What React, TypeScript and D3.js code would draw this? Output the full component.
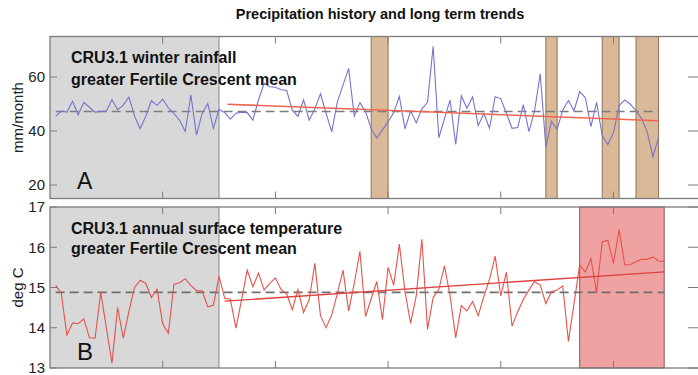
import React from "react";
import * as d3 from "d3";

// CRU3.1 winter rainfall, greater Fertile Crescent mean (mm/month), 1901-2008
const precipStartYear = 1901;
const precipValues = [
  45.4, 47.4, 47.0, 51.0, 46.0, 50.6, 48.8, 47.0, 47.2, 47.4,
  51.6, 47.9, 49.6, 52.6, 45.6, 40.8, 45.5, 51.2, 49.5, 51.8,
  48.6, 46.4, 44.0, 39.8, 53.4, 38.5, 46.5, 50.2, 41.0, 48.0,
  46.8, 44.4, 46.6, 47.0, 46.8, 44.0, 51.5, 57.7, 56.4, 56.2,
  55.3, 55.0, 47.7, 45.4, 51.5, 44.0, 48.2, 53.8, 46.5, 39.7,
  50.8, 57.0, 63.2, 45.5, 50.5, 47.2, 40.8, 37.4, 40.4, 43.4,
  46.8, 52.8, 40.8, 47.4, 43.0, 48.2, 50.6, 71.4, 37.5, 44.5,
  51.5, 35.0, 53.0, 48.4, 52.6, 42.0, 46.5, 41.0, 52.7, 52.0,
  46.5, 41.0, 41.3, 49.8, 39.8, 47.5, 61.2, 34.0, 43.6, 40.6,
  47.8, 51.3, 47.5, 54.6, 52.4, 41.6, 50.6, 38.3, 35.0, 39.3,
  49.4, 51.5, 49.9, 47.5, 44.6, 39.5, 30.5, 37.5,
];
const precipMean = 47.2;
const precipTrend = [
  { year: 1931.5, value: 49.9 },
  { year: 2008, value: 43.8 },
];
// drought winters
const droughtSpans = [
  [1957, 1960],
  [1988, 1990],
  [1998, 2001],
  [2004, 2008],
];

// CRU3.1 annual surface temperature, greater Fertile Crescent mean (deg C), 1901-2009
const tempStartYear = 1901;
const tempValues = [
  15.06, 14.85, 13.82, 14.12, 14.1, 14.22, 13.75, 13.74, 14.88, 14.0,
  13.12, 14.5, 13.74, 14.4, 15.0, 15.18, 15.1, 14.75, 14.96, 14.1,
  13.86, 15.08, 15.12, 15.22, 15.05, 14.92, 14.92, 14.52, 14.56, 15.28,
  14.73, 14.71, 13.99, 14.7, 15.43, 15.02, 15.36, 14.94, 15.1, 15.24,
  14.95, 14.84, 14.45, 14.95, 14.38, 14.7, 15.6, 14.3, 14.0, 14.32,
  14.85, 15.43, 14.42, 15.1, 15.9, 14.28, 14.72, 15.15, 14.2, 15.5,
  15.06, 16.08, 14.9, 14.11, 14.8, 16.2, 13.96, 14.75, 14.95, 15.54,
  14.8, 13.75, 14.55, 14.42, 14.65, 14.3, 14.78, 15.2, 15.78, 14.79,
  15.38, 14.04, 14.4, 14.7, 14.94, 15.15, 15.06, 14.6, 14.9, 14.94,
  15.04, 13.66, 14.6, 15.57, 15.38, 15.72, 14.88, 16.14, 16.17, 15.6,
  16.44, 15.56, 15.57, 15.64, 15.7, 15.7, 15.76, 15.66, 15.65,
];
const tempMean = 14.88;
const tempTrend = [
  { year: 1931, value: 14.66 },
  { year: 2009, value: 15.39 },
];
const warmSpan = [1994, 2009];

// sparse-station early period
const sparseSpan = [1900, 1930];

const xDomain = [1900, 2015];
const xTicks = [1920, 1940, 1960, 1980, 2000];
const precipDomain = [15, 75];
const precipTicks = [20, 40, 60];
const tempDomain = [13, 17];
const tempTicks = [13, 14, 15, 16, 17];

const W = 698;
const H = 375;
const left = 50;
const right = 698;
const panelA = { top: 36.5, bottom: 198.5 };
const panelB = { top: 207, bottom: 368 };

const FONT = "'Liberation Sans', Arial, Helvetica, sans-serif";
const FRAME = "#7c7c7c";

const x = d3.scaleLinear().domain(xDomain).range([left, right]);

type Pt = { year: number; value: number };

function toPoints(start: number, vals: number[]): Pt[] {
  return vals.map((v, i) => ({ year: start + i, value: v }));
}

function Frame({
  y,
  top,
  bottom,
  ticks,
  labels,
}: {
  y: d3.ScaleLinear<number, number>;
  top: number;
  bottom: number;
  ticks: number[];
  labels: boolean;
}) {
  const tl = 7;
  return (
    <g>
      <rect
        x={left}
        y={top}
        width={right + 2 - left}
        height={bottom - top}
        fill="none"
        stroke={FRAME}
        strokeWidth={1.3}
      />
      {xTicks.map((t) => (
        <g key={"x" + t} stroke={FRAME} strokeWidth={1}>
          <line x1={x(t)} x2={x(t)} y1={top} y2={top + tl} />
          <line x1={x(t)} x2={x(t)} y1={bottom} y2={bottom - tl} />
        </g>
      ))}
      {ticks.map((t) => (
        <g key={"y" + t}>
          <line x1={left} x2={left + tl} y1={y(t)} y2={y(t)} stroke={FRAME} strokeWidth={1} />
          <line x1={right - 10} x2={right + 2} y1={y(t)} y2={y(t)} stroke={FRAME} strokeWidth={1} />
          {labels && (
            <text
              x={45}
              y={y(t)}
              dy="0.36em"
              textAnchor="end"
              fontSize={15}
              fontFamily={FONT}
              fill="#222"
            >
              {t}
            </text>
          )}
        </g>
      ))}
    </g>
  );
}

export default function App() {
  const yA = d3.scaleLinear().domain(precipDomain).range([panelA.bottom, panelA.top]);
  const yB = d3.scaleLinear().domain(tempDomain).range([panelB.bottom, panelB.top]);

  const precipPts = toPoints(precipStartYear, precipValues);
  const tempPts = toPoints(tempStartYear, tempValues);

  const lineA = d3
    .line<Pt>()
    .x((d) => x(d.year))
    .y((d) => yA(d.value));
  const lineB = d3
    .line<Pt>()
    .x((d) => x(d.year))
    .y((d) => yB(d.value));

  const precipLastYear = precipStartYear + precipValues.length - 1;
  const tempLastYear = tempStartYear + tempValues.length - 1;

  const sparse = (top: number, bottom: number) => (
    <g>
      <rect
        x={x(sparseSpan[0])}
        y={top}
        width={x(sparseSpan[1]) - x(sparseSpan[0])}
        height={bottom - top}
        fill="#d8d8d8"
      />
      <line
        x1={x(sparseSpan[1])}
        x2={x(sparseSpan[1])}
        y1={top}
        y2={bottom}
        stroke="#8a8a8a"
        strokeWidth={1}
      />
    </g>
  );

  return (
    <svg
      width={W}
      height={H}
      viewBox={`0 0 ${W} ${H}`}
      style={{ position: "absolute", left: 0, top: 0, background: "#fff" }}
    >
      <rect width={W} height={H} fill="#fff" />
      <text
        x={380}
        y={19}
        textAnchor="middle"
        fontSize={14.5}
        fontWeight="bold"
        fontFamily={FONT}
        fill="#111"
      >
        Precipitation history and long term trends
      </text>

      {/* Panel A: winter rainfall */}
      {sparse(panelA.top, panelA.bottom)}
      {droughtSpans.map(([a, b]) => (
        <rect
          key={a}
          x={x(a)}
          y={panelA.top}
          width={x(b) - x(a)}
          height={panelA.bottom - panelA.top}
          fill="#d9b997"
          stroke="#8e7259"
          strokeWidth={1}
        />
      ))}
      <line
        x1={x(precipStartYear)}
        x2={x(precipLastYear)}
        y1={yA(precipMean)}
        y2={yA(precipMean)}
        stroke="#7d7d7d"
        strokeWidth={1.4}
        strokeDasharray="9 5"
      />
      <path d={lineA(precipPts) ?? ""} fill="none" stroke="#7474cc" strokeWidth={1.1} />
      <path d={lineA(precipTrend) ?? ""} fill="none" stroke="#ef6552" strokeWidth={1.6} />
      <Frame y={yA} top={panelA.top} bottom={panelA.bottom} ticks={precipTicks} labels />
      <text x={71} y={63} fontSize={16} fontWeight="bold" fontFamily={FONT} fill="#111">
        CRU3.1 winter rainfall
      </text>
      <text x={71} y={84.5} fontSize={16} fontWeight="bold" fontFamily={FONT} fill="#111">
        greater Fertile Crescent mean
      </text>
      <text x={77} y={189} fontSize={23} fontFamily={FONT} fill="#111">
        A
      </text>
      <text
        transform={`translate(23, ${(panelA.top + panelA.bottom) / 2}) rotate(-90)`}
        textAnchor="middle"
        fontSize={15}
        fontFamily={FONT}
        fill="#222"
      >
        mm/month
      </text>

      {/* Panel B: annual temperature */}
      {sparse(panelB.top, panelB.bottom)}
      <rect
        x={x(warmSpan[0])}
        y={panelB.top}
        width={x(warmSpan[1]) - x(warmSpan[0])}
        height={panelB.bottom - panelB.top}
        fill="#f0a2a2"
        stroke="#9c6a6a"
        strokeWidth={1.2}
      />
      <line
        x1={x(tempStartYear)}
        x2={x(tempLastYear)}
        y1={yB(tempMean)}
        y2={yB(tempMean)}
        stroke="#6f6f6f"
        strokeWidth={1.6}
        strokeDasharray="9 5"
      />
      <path d={lineB(tempPts) ?? ""} fill="none" stroke="#e5524b" strokeWidth={1.1} />
      <path d={lineB(tempTrend) ?? ""} fill="none" stroke="#e0423e" strokeWidth={1.3} />
      <Frame y={yB} top={panelB.top} bottom={panelB.bottom} ticks={tempTicks} labels />
      <text x={71} y={234} fontSize={16} fontWeight="bold" fontFamily={FONT} fill="#111">
        CRU3.1 annual surface temperature
      </text>
      <text x={71} y={254} fontSize={16} fontWeight="bold" fontFamily={FONT} fill="#111">
        greater Fertile Crescent mean
      </text>
      <text x={77} y={360} fontSize={24} fontFamily={FONT} fill="#111">
        B
      </text>
      <text
        transform={`translate(23, ${(panelB.top + panelB.bottom) / 2}) rotate(-90)`}
        textAnchor="middle"
        fontSize={15}
        fontFamily={FONT}
        fill="#222"
      >
        deg C
      </text>
    </svg>
  );
}
